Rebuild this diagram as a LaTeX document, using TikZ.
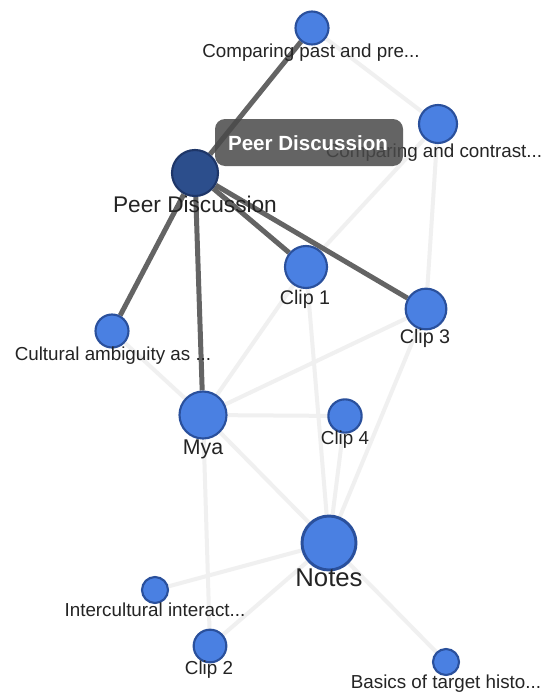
\documentclass[tikz,border=0pt]{standalone}
\usepackage{fontspec}
\setmainfont{Liberation Sans}
\usetikzlibrary{backgrounds}

\definecolor{nodefill}{RGB}{74,128,226}
\definecolor{nodeline}{RGB}{42,80,156}
\definecolor{hubfill}{RGB}{44,78,140}
\definecolor{hubline}{RGB}{30,54,104}
\definecolor{linkfaint}{RGB}{240,240,240}
\definecolor{linkstrong}{RGB}{100,100,100}
\definecolor{labeltext}{RGB}{36,36,36}
\definecolor{tipfill}{RGB}{73,73,73}

\newcommand{\fsz}[1]{\fontsize{#1}{#1}\selectfont}

\begin{document}
\begin{tikzpicture}[x=0.75pt, y=-0.75pt,
  vnode/.style={circle, draw=nodeline, fill=nodefill, line width=1.6pt, inner sep=0pt},
  hub/.style={circle, draw=hubline, fill=hubfill, line width=1.6pt, inner sep=0pt},
  faint/.style={draw=linkfaint, line width=3pt},
  strong/.style={draw=linkstrong, line width=3.75pt},
  lbl/.style={anchor=base, inner sep=0pt, text=labeltext, font=\fsz{14.1pt}},
  tip/.style={rounded corners=7.5pt, fill=tipfill, fill opacity=0.85, draw=none},
  tiptext/.style={anchor=base, inner sep=0pt, text=white, font=\bfseries\fsz{15.4pt}}
]
\useasboundingbox (0,0) rectangle (548,692);

% graph vertices
\node[vnode, minimum size=24.75pt] (cpast)  at (312,28)  {};
\node[vnode, minimum size=28.5pt]  (ccon)   at (438,124) {};
\node[hub,   minimum size=34.5pt]  (pd)     at (195,173) {};
\node[vnode, minimum size=31.5pt]  (clip1)  at (306,267) {};
\node[vnode, minimum size=30.5pt]  (clip3)  at (426,309) {};
\node[vnode, minimum size=24.75pt] (cult)   at (112,331) {};
\node[vnode, minimum size=35.25pt] (mya)    at (203,415) {};
\node[vnode, minimum size=25pt]    (clip4)  at (345,416) {};
\node[vnode, minimum size=40.5pt, line width=2.2pt] (notes) at (329,543) {};
\node[vnode, minimum size=19.5pt]  (inter)  at (155,590) {};
\node[vnode, minimum size=24.5pt]  (clip2)  at (210,646) {};
\node[vnode, minimum size=19.5pt]  (basics) at (446,662) {};

% white page, then links: faint ones first, then the highlighted ones
\begin{scope}[on background layer]
  \fill[white] (0,0) rectangle (548,692);
  \draw[faint] (cpast) -- (ccon);
  \draw[faint] (ccon) -- (clip1);
  \draw[faint] (ccon) -- (clip3);
  \draw[faint] (clip1) -- (mya);
  \draw[faint] (clip3) -- (mya);
  \draw[faint] (clip4) -- (mya);
  \draw[faint] (cult) -- (mya);
  \draw[faint] (mya) -- (notes);
  \draw[faint] (mya) -- (clip2);
  \draw[faint] (clip1) -- (notes);
  \draw[faint] (clip3) -- (notes);
  \draw[faint] (clip4) -- (notes);
  \draw[faint] (notes) -- (inter);
  \draw[faint] (notes) -- (clip2);
  \draw[faint] (notes) -- (basics);
  \draw[strong] (pd) -- (cpast);
  \draw[strong] (pd) -- (cult);
  \draw[strong] (pd) -- (mya);
  \draw[strong] (pd) -- (clip1);
  \draw[strong] (pd) -- (clip3);
\end{scope}

% vertex captions
\node[lbl] (l-cpast)  at (311,58)  {Comparing past and pre...};
\node[lbl] (l-ccon)   at (434,157) {Comparing and contrast...};
\node[lbl, font=\fsz{17pt}] (l-pd) at (195,212) {Peer Discussion};
\node[lbl, font=\fsz{14.8pt}] (l-clip1) at (305,304) {Clip 1};
\node[lbl, font=\fsz{14.8pt}] (l-clip3) at (425,343) {Clip 3};
\node[lbl] (l-cult)   at (113,360) {Cultural ambiguity as ...};
\node[lbl, font=\fsz{16pt}] (l-mya) at (203,454) {Mya};
\node[lbl, font=\fsz{14.1pt}] (l-clip4) at (345,444) {Clip 4};
\node[lbl, font=\fsz{19.3pt}] (l-notes) at (329,586) {Notes};
\node[lbl] (l-inter)  at (155,616) {Intercultural interact...};
\node[lbl, font=\fsz{14.1pt}] (l-clip2) at (209,674) {Clip 2};
\node[lbl] (l-basics) at (446,688) {Basics of target histo...};

% hover tooltip
\path[tip] (215,119) rectangle (403,166);
\node[tiptext] (tipname) at (308,150) {Peer Discussion};
\end{tikzpicture}
\end{document}
